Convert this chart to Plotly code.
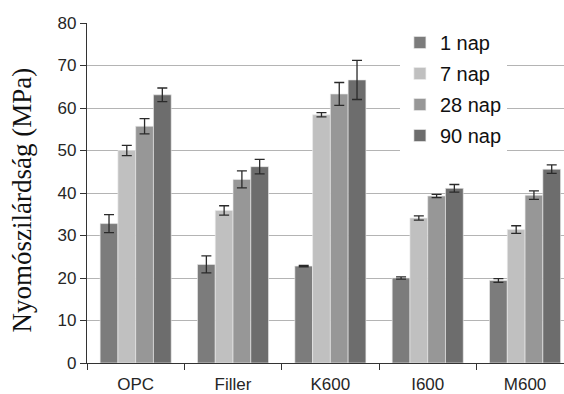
import plotly.graph_objects as go

# Compressive strength by mix and curing age
categories = ["OPC", "Filler", "K600", "I600", "M600"]
series_names = ["1 nap", "7 nap", "28 nap", "90 nap"]

nap1 = [32.8, 23.2, 22.8, 20.0, 19.4]
nap1_err = [2.1, 2.0, 0.15, 0.25, 0.45]
nap7 = [50.0, 35.9, 58.4, 34.1, 31.4]
nap7_err = [1.2, 1.1, 0.5, 0.5, 0.9]
nap28 = [55.7, 43.2, 63.3, 39.3, 39.5]
nap28_err = [1.8, 2.0, 2.7, 0.4, 1.0]
nap90 = [63.1, 46.2, 66.6, 41.1, 45.6]
nap90_err = [1.6, 1.7, 4.6, 0.9, 1.0]

values = [nap1, nap7, nap28, nap90]
errors = [nap1_err, nap7_err, nap28_err, nap90_err]
colors = ["#7c7c7c", "#c0c0c0", "#979797", "#6d6d6d"]

fig = go.Figure()
for name, vals, errs, col in zip(series_names, values, errors, colors):
    fig.add_trace(go.Bar(
        x=categories, y=vals, name=name, legendgroup=name,
        marker=dict(color=col, line=dict(color="rgba(235,235,235,0.8)", width=0.8)),
        error_y=dict(type="data", array=errs, visible=True,
                     color="#2a2a2a", thickness=1.3, width=5),
    ))

sans = "Liberation Sans, Arial, sans-serif"

fig.update_layout(
    width=564, height=394,
    margin=dict(l=87, r=0, t=23, b=31),
    paper_bgcolor="white", plot_bgcolor="white",
    barmode="group", bargap=0.27, bargroupgap=0,
    showlegend=True,
    legend=dict(
        x=0.656, y=1.0, xanchor="left", yanchor="top",
        bgcolor="white", borderwidth=0,
        font=dict(family=sans, size=20, color="#111111"),
        tracegroupgap=2, itemwidth=30,
    ),
    xaxis=dict(
        range=[-0.5, 4.4], showgrid=False,
        showline=True, linecolor="#333333", linewidth=1.2,
        ticks="outside", tickson="boundaries", ticklen=6, tickcolor="#333333",
        ticklabelstandoff=5,
        tickfont=dict(family=sans, size=17, color="#262626"),
    ),
    yaxis=dict(
        range=[0, 80], dtick=10, showgrid=True, gridcolor="#b4b4b4", gridwidth=1.3,
        zeroline=False, showline=True, linecolor="#333333", linewidth=1.2,
        ticks="outside", ticklen=6, tickcolor="#333333",
        tickfont=dict(family=sans, size=17, color="#262626"),
    ),
    annotations=[dict(
        text="Nyomószilárdság (MPa)", textangle=-90,
        xref="paper", yref="paper", x=-0.137, y=0.48,
        xanchor="center", yanchor="middle", showarrow=False,
        font=dict(family="Liberation Serif, Times New Roman, serif", size=27, color="#111111"),
    )],
)

fig.write_html("out.html")
